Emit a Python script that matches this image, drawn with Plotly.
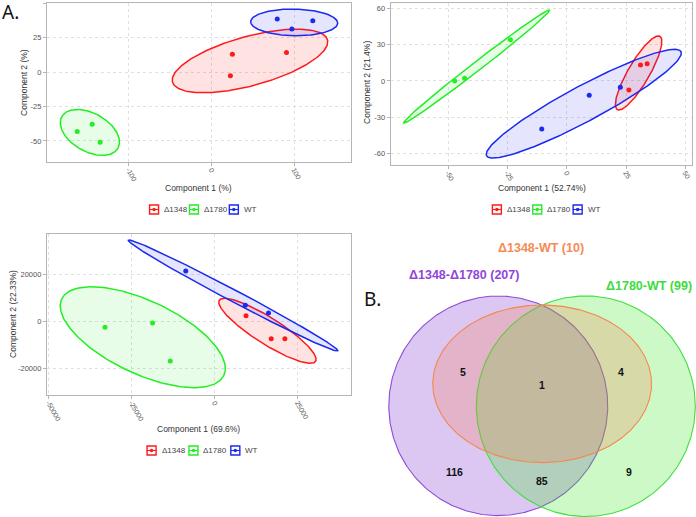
import numpy as np
import plotly.graph_objects as go

# ---------------- data ----------------
groups = ["Δ1348", "Δ1780", "WT"]
group_colors = ["#ff1a1a", "#22ee22", "#1a2af0"]
fill_colors = ["rgba(255,40,40,0.13)", "rgba(40,240,40,0.11)", "rgba(40,50,240,0.12)"]

# Panel 1 (top-left) scores
p1_x = {"Δ1348": [25.3, 22.9, 90.7], "Δ1780": [-162.3, -144.2, -134.6], "WT": [79.5, 97.2, 122.5]}
p1_y = {"Δ1348": [12.9, -2.7, 14.3], "Δ1780": [-43.2, -37.8, -51.0], "WT": [38.5, 31.3, 37.3]}
# ellipse: centre x, centre y, half-extent x, half-extent y, correlation
p1_ell = {"Δ1348": [46.6, 8.1, 94.0, 23.1, 0.60],
          "Δ1780": [-147.0, -43.8, 35.8, 16.7, -0.42],
          "WT": [100.0, 36.1, 52.6, 9.7, -0.05]}

# Panel 2 (top-right) scores
p2_x = {"Δ1348": [26.2, 31.1, 33.9], "Δ1780": [-47.2, -43.0, -23.7], "WT": [-10.5, 9.5, 22.6]}
p2_y = {"Δ1348": [-7.4, 13.2, 14.3], "Δ1780": [0.0, 2.2, 34.0], "WT": [-39.6, -11.8, -5.2]}
p2_ell = {"Δ1348": [30.3, 6.6, 9.8, 30.5, 0.85],
          "Δ1780": [-37.9, 12.0, 30.8, 46.6, 0.995],
          "WT": [7.2, -18.7, 41.1, 44.8, 0.93]}

# Panel 3 (bottom-left) scores
p3_x = {"Δ1348": [9435, 17037, 21154], "Δ1780": [-33053, -18720, -13401], "WT": [-8714, 9225, 16226]}
p3_y = {"Δ1348": [2383, -7404, -7404], "Δ1780": [-2553, -723, -16894], "WT": [21404, 6809, 3532]}
p3_ell = {"Δ1348": [15895, -4043, 14663, 13830, -0.88],
          "Δ1780": [-21665, -6766, 24880, 21489, -0.62],
          "WT": [5529, 10979, 31550, 23617, -0.993]}

# Venn diagram
venn_sets = ["Δ1348-Δ1780 (207)", "Δ1348-WT (10)", "Δ1780-WT (99)"]
venn_counts = ["5", "1", "4", "116", "85", "9"]

# ---------------- helpers ----------------
W, H = 696, 517


def ellipse(cx, cy, rx, ry, rho, n=240):
    t = np.linspace(0, 2 * np.pi, n)
    d = np.arccos(np.clip(rho, -1, 1))
    return cx + rx * np.cos(t + d / 2), cy + ry * np.cos(t - d / 2)


fig = go.Figure()

panels = [
    dict(xs=p1_x, ys=p1_y, ell=p1_ell, xa="x", ya="y"),
    dict(xs=p2_x, ys=p2_y, ell=p2_ell, xa="x2", ya="y2"),
    dict(xs=p3_x, ys=p3_y, ell=p3_ell, xa="x3", ya="y3"),
]

for p in panels:
    for g, col, fc in zip(groups, group_colors, fill_colors):
        ex, ey = ellipse(*p["ell"][g])
        fig.add_trace(go.Scatter(x=ex, y=ey, mode="lines", fill="toself", fillcolor=fc,
                                 line=dict(color=col, width=1.5), xaxis=p["xa"], yaxis=p["ya"],
                                 showlegend=False, hoverinfo="skip"))
    for g, col in zip(groups, group_colors):
        fig.add_trace(go.Scatter(x=p["xs"][g], y=p["ys"][g], mode="markers",
                                 marker=dict(color=col, size=5), xaxis=p["xa"], yaxis=p["ya"],
                                 showlegend=False, name=g))

# ---------------- Venn (page axis in pixel units) ----------------
venn_geom = [  # cx, cy, rx, ry
    (497.7, 405.8, 109.8, 109.8),   # Δ1348-Δ1780
    (585.5, 406.2, 109.8, 110.3),   # Δ1780-WT
    (541.7, 383.8, 109.7, 78.8),    # Δ1348-WT
]
venn_line = ["#8f4ad6", "#3ee03e", "#f4874f"]
venn_fill = ["rgba(147,86,214,0.33)", "rgba(60,230,40,0.26)", "rgba(250,110,60,0.22)"]
for (cx, cy, rx, ry), lc, fc in zip(venn_geom, venn_line, venn_fill):
    vx, vy = ellipse(cx, cy, rx, ry, 0.0, 360)
    fig.add_trace(go.Scatter(x=vx, y=vy, mode="lines", fill="toself", fillcolor=fc,
                             line=dict(color=lc, width=1.1), xaxis="x4", yaxis="y4",
                             showlegend=False, hoverinfo="skip"))

# ---------------- custom legends ----------------
legend_rows = [(152.5, 209.5, 40.0), (496.3, 209.5, 40.5), (150.0, 450.5, 42.0)]
for x0, y0, step in legend_rows:
    for i, (g, col) in enumerate(zip(groups, group_colors)):
        xx = x0 + i * step
        fig.add_trace(go.Scatter(x=[xx], y=[y0], mode="markers", xaxis="x4", yaxis="y4",
                                 marker=dict(symbol="square-open", size=9, color=col,
                                             line=dict(width=1.4, color=col)),
                                 showlegend=False, hoverinfo="skip"))
        fig.add_trace(go.Scatter(x=[xx], y=[y0], mode="markers", xaxis="x4", yaxis="y4",
                                 marker=dict(symbol="line-ew", size=7, color=col,
                                             line=dict(width=1.1, color=col)),
                                 showlegend=False, hoverinfo="skip"))
        fig.add_trace(go.Scatter(x=[xx], y=[y0], mode="markers", xaxis="x4", yaxis="y4",
                                 marker=dict(symbol="circle", size=3.5, color=col),
                                 showlegend=False, hoverinfo="skip"))
        fig.add_annotation(x=xx + 8, y=y0, xref="x4", yref="y4", text=g, showarrow=False,
                           xanchor="left", yanchor="middle",
                           font=dict(size=8, color="#444444", family="Liberation Sans"))

# ---------------- axes ----------------
FONT = "Liberation Sans"
common = dict(showline=True, mirror=True, linecolor="#b5b5b5", linewidth=1,
              ticks="outside", ticklen=3, tickcolor="#b5b5b5",
              showgrid=True, gridcolor="#e0e0e0", griddash="dot", gridwidth=1,
              zeroline=False, tickfont=dict(size=7.5, color="#555555", family=FONT))
xcommon = dict(common, tickfont=dict(size=7, color="#555555", family=FONT),
               tickangle=60, ticklabelstandoff=-3)


def dom_x(a, b):
    return [a / W, b / W]


def dom_y(top, bottom):
    return [1 - bottom / H, 1 - top / H]


p1_xt = [-100, 0, 100]
p1_yt = [-50, -25, 0, 25, 50]
p2_xt = [-50, -25, 0, 25, 50]
p2_yt = [-60, -30, 0, 30, 60]
p3_xt = [-50000, -25000, 0, 25000]
p3_yt = [-20000, 0, 20000]

fig.update_layout(
    xaxis=dict(domain=dom_x(45, 350), range=[-199, 168.7], tickvals=p1_xt,
               ticktext=[str(v) for v in p1_xt], anchor="y", **xcommon),
    yaxis=dict(domain=dom_y(3, 162), range=[-65.3, 50.2], tickvals=p1_yt,
               ticktext=[str(v) for v in p1_yt], anchor="x", **common),
    xaxis2=dict(domain=dom_x(389.7, 692), range=[-74.2, 52.8], tickvals=p2_xt,
                ticktext=[str(v) for v in p2_xt], anchor="y2", **xcommon),
    yaxis2=dict(domain=dom_y(3.3, 165), range=[-69.2, 64], tickvals=p2_yt,
                ticktext=[str(v) for v in p2_yt], anchor="x2", **common),
    xaxis3=dict(domain=dom_x(45, 350), range=[-50571, 41076], tickvals=p3_xt,
                ticktext=[str(v) for v in p3_xt], anchor="y3", **xcommon),
    yaxis3=dict(domain=dom_y(234.3, 395), range=[-31362, 37021], tickvals=p3_yt,
                ticktext=[str(v) for v in p3_yt], anchor="x3", **common),
    xaxis4=dict(domain=[0, 1], range=[0, W], visible=False, anchor="y4"),
    yaxis4=dict(domain=[0, 1], range=[H, 0], visible=False, anchor="x4"),
    width=W, height=H, margin=dict(l=0, r=0, t=0, b=0),
    paper_bgcolor="white", plot_bgcolor="rgba(0,0,0,0)", showlegend=False,
)

# axis titles
titles = [
    ("Component 1 (%)", 197, 188, 0), ("Component 2 (%)", 22, 82, -90),
    ("Component 1 (52.74%)", 542, 188, 0), ("Component 2 (21.4%)", 366, 82, -90),
    ("Component 1 (69.6%)", 197, 429, 0), ("Component 2 (22.33%)", 11, 314, -90),
]
for txt, x, y, ang in titles:
    fig.add_annotation(x=x, y=y, xref="x4", yref="y4", text=txt, showarrow=False,
                       textangle=ang, font=dict(size=8.5, color="#333333", family=FONT))

# panel letters
fig.add_annotation(x=9, y=12, xref="x4", yref="y4", text="A.", showarrow=False,
                   font=dict(size=19, color="#111111", family="Noto Sans"))
fig.add_annotation(x=372, y=299, xref="x4", yref="y4", text="B.", showarrow=False,
                   font=dict(size=19, color="#111111", family="Noto Sans"))

# Venn set labels
set_label_pos = [(463.5, 275, "#9146d8", "center"), (541, 248, "#f68a55", "center"),
                 (694, 286, "#3ddc3d", "right")]
for txt, (x, y, c, anc) in zip(venn_sets, set_label_pos):
    fig.add_annotation(x=x, y=y, xref="x4", yref="y4", text="<b>" + txt + "</b>",
                       showarrow=False, xanchor=anc,
                       font=dict(size=12.5, color=c, family=FONT))

# Venn region counts
count_pos = [(462.3, 371.7), (541.3, 385), (620.3, 371.7), (454, 471.7), (541.3, 480.7), (629, 471.7)]
for txt, (x, y) in zip(venn_counts, count_pos):
    fig.add_annotation(x=x, y=y, xref="x4", yref="y4", text="<b>" + txt + "</b>",
                       showarrow=False, font=dict(size=10.5, color="#111111", family=FONT))

fig.write_html("out.html", config={"displayModeBar": False},
               post_script="document.body.style.margin='0px';")
